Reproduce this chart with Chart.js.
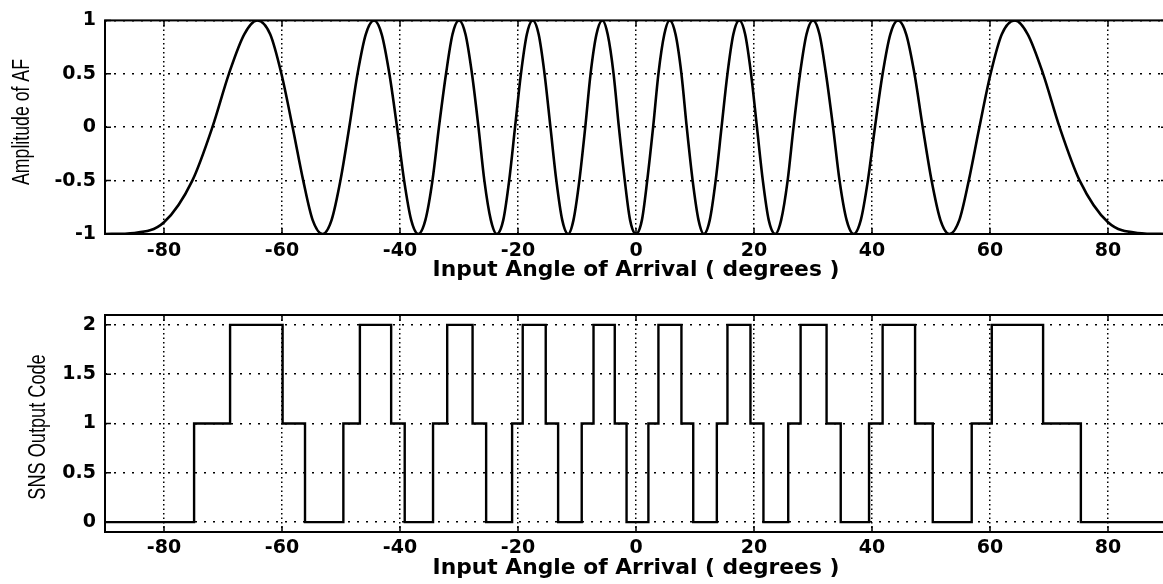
<!DOCTYPE html>
<html>
<head>
<meta charset="utf-8">
<title>AF amplitude and SNS output code</title>
<script src="https://cdn.jsdelivr.net/npm/chart.js@4"></script>
<style>
    html, body { margin: 0; padding: 0; background: #fff; overflow: hidden; }
    canvas { position: absolute; left: 0; }
    #afChart { top: 0; }
    #snsChart { top: 290px; }
</style>
</head>
<body>
<canvas id="afChart" width="1170" height="290"></canvas>
<canvas id="snsChart" width="1170" height="294"></canvas>
<script>
// upper plot: angles (deg) read at the peaks, troughs and the +-0.87 / +-0.5 / 0 levels
const afAngles = [
    -90, -85, -80, -75.2, -71.8, -69.0, -66.4, -64.2, -62.0, -60.1, -58.2, -56.4, -54.8, -53.1,
    -51.6, -50.1, -48.6, -47.2, -45.8, -44.4, -43.1, -41.8, -40.5, -39.3, -38.1, -36.9,
    -35.7, -34.5, -33.4, -32.2, -31.1, -30.0, -28.9, -27.8, -26.7, -25.7, -24.6, -23.6,
    -22.5, -21.5, -20.5, -19.5, -18.5, -17.5, -16.5, -15.5, -14.5, -13.5, -12.5, -11.5,
    -10.6, -9.6, -8.6, -7.7, -6.7, -5.7, -4.8, -3.8, -2.9, -1.9, -1.0, 0,
    1.0, 1.9, 2.9, 3.8, 4.8, 5.7, 6.7, 7.7, 8.6, 9.6, 10.6,
    11.5, 12.5, 13.5, 14.5, 15.5, 16.5, 17.5, 18.5, 19.5, 20.5, 21.5, 22.5,
    23.6, 24.6, 25.7, 26.7, 27.8, 28.9, 30.0, 31.1, 32.2, 33.4, 34.5, 35.7,
    36.9, 38.1, 39.3, 40.5, 41.8, 43.1, 44.4, 45.8, 47.2, 48.6, 50.1, 51.6,
    53.1, 54.8, 56.4, 58.2, 60.1, 62.0, 64.2, 66.4, 69.0, 71.8, 75.2, 80, 85, 90
];
const afAmplitude = [
    -1, -0.99, -0.89, -0.5, 0, 0.5, 0.87, 1, 0.87, 0.5, 0, -0.5, -0.87, -1,
    -0.87, -0.5, 0, 0.5, 0.87, 1, 0.87, 0.5, 0, -0.5, -0.87, -1,
    -0.87, -0.5, 0, 0.5, 0.87, 1, 0.87, 0.5, 0, -0.5, -0.87, -1,
    -0.87, -0.5, 0, 0.5, 0.87, 1, 0.87, 0.5, 0, -0.5, -0.87, -1,
    -0.87, -0.5, 0, 0.5, 0.87, 1, 0.87, 0.5, 0, -0.5, -0.87, -1,
    -0.87, -0.5, 0, 0.5, 0.87, 1, 0.87, 0.5, 0, -0.5, -0.87,
    -1, -0.87, -0.5, 0, 0.5, 0.87, 1, 0.87, 0.5, 0, -0.5, -0.87,
    -1, -0.87, -0.5, 0, 0.5, 0.87, 1, 0.87, 0.5, 0, -0.5, -0.87,
    -1, -0.87, -0.5, 0, 0.5, 0.87, 1, 0.87, 0.5, 0, -0.5, -0.87,
    -1, -0.87, -0.5, 0, 0.5, 0.87, 1, 0.87, 0.5, 0, -0.5, -0.89, -0.99, -1
];

// lower plot: angle where each code level starts (last one closes the line)
const snsEdges = [
    -90, -74.9, -68.8, -59.9, -56.1, -49.6, -46.8, -41.5, -39.2, -34.4,
    -32.0, -27.7, -25.4, -21.0, -19.2, -15.3, -13.2, -9.2, -7.2, -3.6,
    -1.6, 2.1, 3.8, 7.7, 9.7, 13.7, 15.5, 19.4, 21.6, 25.8,
    27.9, 32.3, 34.7, 39.5, 41.8, 47.3, 50.3, 56.9, 60.3, 69.0,
    75.4, 90
];
const snsCodes = [
    0, 1, 2, 1, 0, 1, 2, 1, 0, 1,
    2, 1, 0, 1, 2, 1, 0, 1, 2, 1,
    0, 1, 2, 1, 0, 1, 2, 1, 0, 1,
    2, 1, 0, 1, 2, 1, 0, 1, 2, 1,
    0, 0
];

const angleTicks = [-80, -60, -40, -20, 0, 20, 40, 60, 80];
const angleTickLabels = ["-80", "-60", "-40", "-20", "0", "20", "40", "60", "80"];
const afTicks = [-1, -0.5, 0, 0.5, 1];
const afTickLabels = ["-1", "-0.5", "0", "0.5", "1"];
const snsTicks = [0, 0.5, 1, 1.5, 2];
const snsTickLabels = ["0", "0.5", "1", "1.5", "2"];
const xTitle = "Input Angle of Arrival ( degrees )";

const tickFont = { family: "'DejaVu Sans', sans-serif", weight: "bold", size: 19 };
const xTitleFont = { family: "'DejaVu Sans', sans-serif", weight: "bold", size: 21.8 };

// box round the plot, the small inward tick marks and a condensed y title
function framePlugin(cfg) {
    return {
        id: "frame",
        afterDraw(chart) {
            const { ctx, chartArea: a, scales } = chart;
            ctx.save();
            ctx.strokeStyle = "#000";
            ctx.lineWidth = 2;
            ctx.strokeRect(a.left, a.top, a.right - a.left, a.bottom - a.top);
            ctx.lineWidth = 1.5;
            ctx.beginPath();
            for (const t of scales.x.ticks) {
                const px = scales.x.getPixelForValue(t.value);
                ctx.moveTo(px, a.bottom); ctx.lineTo(px, a.bottom - 6);
                ctx.moveTo(px, a.top); ctx.lineTo(px, a.top + 6);
            }
            for (const t of scales.y.ticks) {
                const py = scales.y.getPixelForValue(t.value);
                ctx.moveTo(a.left, py); ctx.lineTo(a.left + 6, py);
                ctx.moveTo(a.right, py); ctx.lineTo(a.right - 6, py);
            }
            ctx.stroke();

            // y title: Helvetica-condensed look, squeezed along the text
            ctx.translate(cfg.yTitleX, cfg.yTitleY);
            ctx.rotate(-Math.PI / 2);
            ctx.scale(cfg.yTitleSquash, 1);
            ctx.fillStyle = "#000";
            ctx.font = "23px 'Liberation Sans', Arial, sans-serif";
            ctx.textAlign = "center";
            ctx.textBaseline = "middle";
            ctx.fillText(cfg.yTitle, 0, 0);
            ctx.restore();
        }
    };
}

function makeChart(canvasId, dataset, cfg) {
    const ctx = document.getElementById(canvasId).getContext("2d");
    return new Chart(ctx, {
        type: "line",
        data: { datasets: [dataset] },
        plugins: [framePlugin(cfg)],
        options: {
            responsive: false,
            animation: false,
            events: [],
            layout: { padding: { top: cfg.topPad, right: 3, left: 0, bottom: 0 } },
            plugins: { legend: { display: false }, tooltip: { enabled: false } },
            scales: {
                x: {
                    type: "linear",
                    min: -90,
                    max: 90,
                    afterBuildTicks: s => { s.ticks = angleTicks.map(v => ({ value: v })); },
                    afterFit: s => { s.height = cfg.xHeight; },
                    ticks: {
                        color: "#000",
                        font: tickFont,
                        padding: cfg.xTickPad,
                        maxRotation: 0,
                        callback: (v) => angleTickLabels[angleTicks.indexOf(v)]
                    },
                    grid: { color: "#000", lineWidth: 1.5, drawTicks: false },
                    border: { display: false, dash: [1.5, 3] },
                    title: {
                        display: true,
                        text: xTitle,
                        color: "#000",
                        font: xTitleFont,
                        padding: { top: 0, bottom: cfg.xTitlePad }
                    }
                },
                y: {
                    min: cfg.yMin,
                    max: cfg.yMax,
                    afterBuildTicks: s => { s.ticks = cfg.yTicks.map(v => ({ value: v })); },
                    afterFit: s => { s.width = 105; },
                    ticks: {
                        color: "#000",
                        font: tickFont,
                        padding: 9,
                        callback: (v) => cfg.yLabels[cfg.yTicks.indexOf(v)]
                    },
                    grid: { color: "#000", lineWidth: 1.5, drawTicks: false },
                    border: { display: false, dash: [2, 7] }
                }
            }
        }
    });
}

makeChart("afChart", {
    data: afAngles.map((a, i) => ({ x: a, y: afAmplitude[i] })),
    borderColor: "#000",
    borderWidth: 2.6,
    pointRadius: 0,
    fill: false,
    cubicInterpolationMode: "monotone"
}, {
    topPad: 16, xHeight: 56, xTickPad: 6, xTitlePad: 7,
    yMin: -1, yMax: 1, yTicks: afTicks, yLabels: afTickLabels,
    yTitle: "Amplitude of AF", yTitleX: 23, yTitleY: 122, yTitleSquash: 0.77
});

makeChart("snsChart", {
    data: snsEdges.map((a, i) => ({ x: a, y: snsCodes[i] })),
    borderColor: "#000",
    borderWidth: 2.4,
    pointRadius: 0,
    fill: false,
    stepped: "before"
}, {
    topPad: 25, xHeight: 52, xTickPad: 5, xTitlePad: 3,
    yMin: -0.1, yMax: 2.1, yTicks: snsTicks, yLabels: snsTickLabels,
    yTitle: "SNS Output Code", yTitleX: 39, yTitleY: 137, yTitleSquash: 0.79
});
</script>
</body>
</html>
